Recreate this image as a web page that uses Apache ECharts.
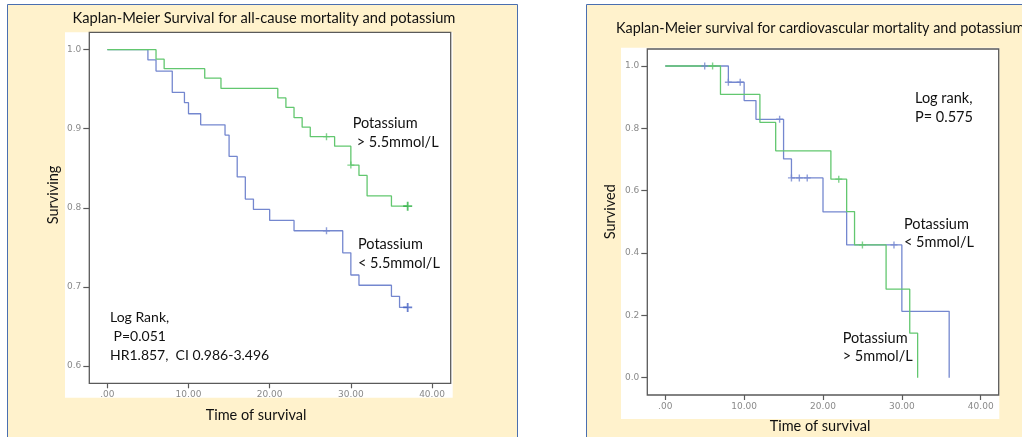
<!DOCTYPE html>
<html><head><meta charset="utf-8">
<script src="https://cdn.jsdelivr.net/npm/echarts@6/dist/echarts.min.js"></script>
<style>html,body{margin:0;padding:0;background:#fff}#c{width:1022px;height:437px}</style>
</head><body><div id="c"></div>
<script>
// ---- tick values / labels ----
const xTicks = [0, 10, 20, 30, 40];
const xTickLabels = ['.00', '10.00', '20.00', '30.00', '40.00'];
const leftYTicks = [0.6, 0.7, 0.8, 0.9, 1.0];
const leftYTickLabels = ['0.6', '0.7', '0.8', '0.9', '1.0'];
const rightYTicks = [0, 0.2, 0.4, 0.6, 0.8, 1.0];
const rightYTickLabels = ['0.0', '0.2', '0.4', '0.6', '0.8', '1.0'];

// ---- all-cause mortality: [time, survival] ----
const allCauseHigh = [[0,1.0],[6,0.988],[7,0.976],[12,0.964],[14,0.951],[21,0.939],[22,0.927],[23,0.914],[24,0.902],[25,0.890],[28,0.878],[30,0.854],[31,0.841],[32,0.815],[35,0.802],[37,0.802]];
const allCauseLow = [[0,1.0],[5,0.987],[6,0.973],[8,0.946],[9.5,0.933],[10,0.919],[11.5,0.905],[14.5,0.892],[15,0.865],[16,0.839],[17,0.811],[18,0.798],[20,0.784],[23,0.771],[29,0.743],[30,0.715],[31,0.702],[35,0.688],[36,0.674],[37,0.674]];
const allCauseHighCensor = [[27,0.890],[30,0.854],[37,0.802]];
const allCauseLowCensor = [[27,0.771],[37,0.674]];

// ---- cardiovascular mortality ----
const cvLow = [[0,1.0],[8,0.948],[10,0.889],[11.5,0.829],[15,0.702],[16,0.641],[20,0.532],[23,0.426],[30,0.213],[36,0.0]];
const cvHigh = [[0,1.0],[7,0.909],[12,0.819],[14,0.728],[21,0.637],[23,0.533],[24,0.426],[28,0.284],[31,0.143],[32,0.0]];
const cvLowCensor = [[5,1.0],[8,0.948],[9.5,0.948],[14.5,0.829],[16,0.641],[17,0.641],[18,0.641],[29,0.426]];
const cvHighCensor = [[6,1.0],[22,0.637],[25,0.426]];

const GREEN = '#62C76F', BLUE = '#7487CF', GREEN_D = '#2DB043', BLUE_D = '#4460C2';
const PLUS = 'path://M4,0H6V4H10V6H6V10H4V6H0V4H4Z';
const AX = '#5a5a5a';
const TXT = '#111';
const FONT = 'Lato, "Open Sans", sans-serif';

function lab(ticks, labels) {
  return v => { for (let i = 0; i < ticks.length; i++) if (Math.abs(ticks[i] - v) < 1e-6) return labels[i]; return ''; };
}
function xAxisCfg(gi, min, max) {
  return {
    type: 'value', gridIndex: gi, min: min, max: max,
    axisLine: { show: false, onZero: false }, splitLine: { show: false },
    axisTick: { show: true, length: 5, customValues: xTicks, lineStyle: { color: AX, width: 1.2 } },
    axisLabel: { customValues: xTicks, formatter: lab(xTicks, xTickLabels), margin: 7, color: '#8a8a8a', fontSize: 9, fontFamily: '"DejaVu Sans"' }
  };
}
function yAxisCfg(gi, min, max, ticks, labels) {
  return {
    type: 'value', gridIndex: gi, min: min, max: max,
    axisLine: { show: false, onZero: false }, splitLine: { show: false },
    axisTick: { show: true, length: 6, customValues: ticks, lineStyle: { color: AX, width: 1.2 } },
    axisLabel: { customValues: ticks, formatter: lab(ticks, labels), margin: 8, color: '#8a8a8a', fontSize: 9, fontFamily: '"DejaVu Sans"' }
  };
}
function lineS(gi, data, color) {
  return { type: 'line', xAxisIndex: gi, yAxisIndex: gi, data: data, step: 'end', showSymbol: false, symbol: 'none',
    lineStyle: { color: color, width: 1.3 }, silent: true, z: 3 };
}
function censorS(gi, data, color, dark, endT) {
  return { type: 'scatter', xAxisIndex: gi, yAxisIndex: gi, symbol: PLUS, z: 4, silent: true,
    data: data.map(p => p[0] === endT ? { value: p, symbolSize: 9, itemStyle: { color: dark } } : { value: p, symbolSize: 7, itemStyle: { color: color } }) };
}
function txt(x, y, s, size) {
  return { type: 'text', x: x, y: y, z: 100,
    style: { text: s, fill: TXT, font: (size || 14) + 'px ' + FONT, textAlign: 'left', textVerticalAlign: 'middle' } };
}
function txtC(x, y, s, size) { const t = txt(x, y, s, size); t.style.textAlign = 'center'; return t; }
function txtR(x, y, s, size) { const t = txtC(x, y, s, size); t.rotation = Math.PI / 2; return t; }

const chart = echarts.init(document.getElementById('c'), null, { renderer: 'canvas' });
chart.setOption({
  animation: false,
  backgroundColor: '#ffffff',
  grid: [
    { left: 89.3, top: 32.3, width: 361.4, height: 351, show: true, borderColor: AX, borderWidth: 1.3, backgroundColor: 'transparent' },
    { left: 647.3, top: 49, width: 351.4, height: 346, show: true, borderColor: AX, borderWidth: 1.3, backgroundColor: 'transparent' }
  ],
  xAxis: [xAxisCfg(0, -2.22, 42.3), xAxisCfg(1, -2.28, 42.28)],
  yAxis: [yAxisCfg(0, 0.578, 1.022, leftYTicks, leftYTickLabels), yAxisCfg(1, -0.0555, 1.0546, rightYTicks, rightYTickLabels)],
  series: [
    lineS(0, allCauseLow, BLUE),
    lineS(0, allCauseHigh, GREEN),
    censorS(0, allCauseLowCensor, BLUE, BLUE_D, 37),
    censorS(0, allCauseHighCensor, GREEN, GREEN_D, 37),
    lineS(1, cvLow, BLUE),
    lineS(1, cvHigh, GREEN),
    censorS(1, cvLowCensor, BLUE, BLUE_D, -1),
    censorS(1, cvHighCensor, GREEN, GREEN_D, -1)
  ],
  graphic: [
    { type: 'rect', z: -20, shape: { x: 7.5, y: 4.5, width: 510, height: 450 }, style: { fill: '#FFF2CC', stroke: '#4A6FB0', lineWidth: 1 } },
    { type: 'rect', z: -20, shape: { x: 586.5, y: 4.5, width: 450, height: 450 }, style: { fill: '#FFF2CC', stroke: '#4A6FB0', lineWidth: 1 } },
    { type: 'rect', z: -10, shape: { x: 65, y: 32.3, width: 387.7, height: 365.4 }, style: { fill: '#ffffff' } },
    { type: 'rect', z: -10, shape: { x: 621, y: 47.7, width: 378.3, height: 371.3 }, style: { fill: '#ffffff' } },

    txtC(264, 18, 'Kaplan-Meier Survival for all-cause mortality and potassium', 14.7),
    txtR(53, 195, 'Surviving', 14.5),
    txtC(256, 415, 'Time of survival', 14.5),
    txt(352.7, 123, 'Potassium', 14.5),
    txt(353, 142, ' > 5.5mmol/L', 14.5),
    txt(358, 244, 'Potassium', 14.5),
    txt(358, 263, '< 5.5mmol/L', 14.5),
    txt(110, 317, 'Log Rank,'),
    txt(110, 336, ' P=0.051'),
    txt(110, 355, 'HR1.857,  CI 0.986-3.496'),

    txt(616, 28, 'Kaplan-Meier survival for cardiovascular mortality and potassium', 14.4),
    txtR(610, 211.7, 'Survived', 14.5),
    txtC(820, 426, 'Time of survival', 14.5),
    txt(915, 98.3, 'Log rank,', 14.5),
    txt(915, 117.3, 'P= 0.575', 14.5),
    txt(904, 224.3, 'Potassium', 14.5),
    txt(904, 242.3, '< 5mmol/L', 14.5),
    txt(842.7, 338.3, 'Potassium', 14.5),
    txt(842.7, 356, '> 5mmol/L', 14.5)
  ]
});
</script></body></html>
